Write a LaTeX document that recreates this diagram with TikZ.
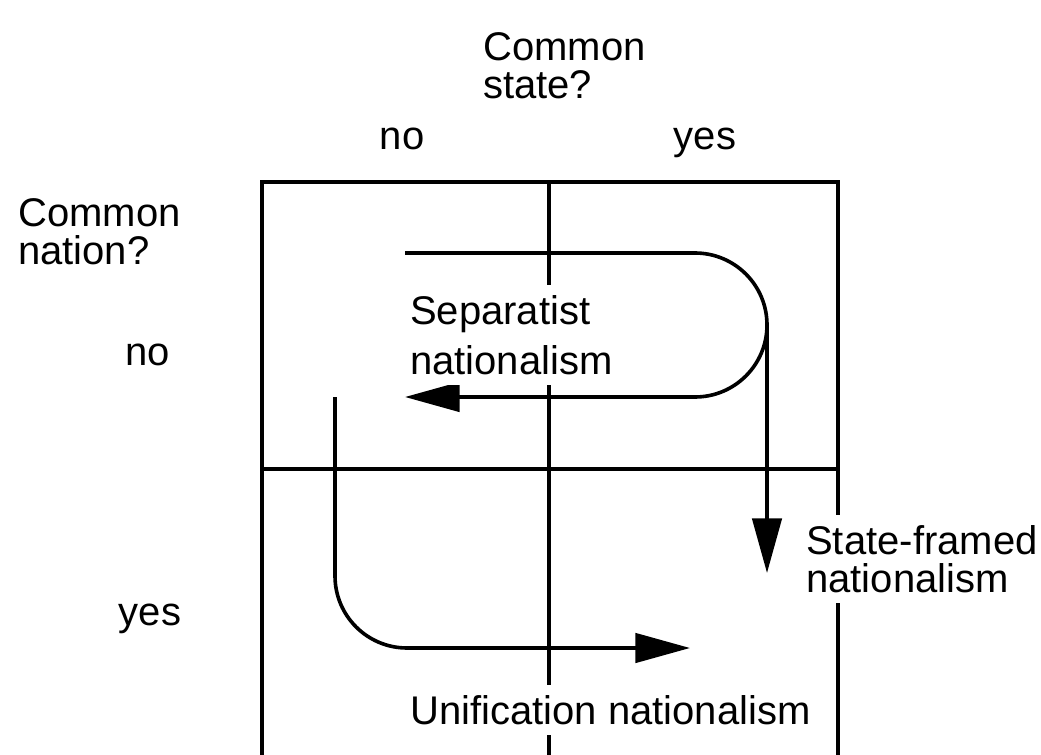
\documentclass[tikz,border=0pt]{standalone}
\usepackage{fontspec}
\setmainfont{Liberation Sans}
\usepackage{tikz}
\usetikzlibrary{arrows.meta,positioning}
\tikzstyle{tableline} = [draw, line width=2.7pt]
\tikzstyle{flow} = [draw, line width=2.7pt, -{Triangle[length=41pt,width=22pt]}]
\tikzstyle{caption} = [inner sep=0pt, align=left]
\tikzstyle{cutout} = [caption, fill=white, inner ysep=8pt]

\begin{document}
\begin{tikzpicture}[x=0.75pt,y=-0.75pt, every node/.style={font=\fontsize{30}{28.5}\selectfont}]
  \useasboundingbox (0,0) rectangle (1041,755);

  % table
  \draw[tableline] (262,755) -- (262,182) -- (838,182) -- (838,755);
  \draw[tableline] (549,182) -- (549,755);
  \draw[tableline] (262,469) -- (838,469);

  % axis labels
  \node[caption, anchor=west] (statequestion) at (483,66) {Common\\state?};
  \node[caption, anchor=base] (stateno) at (402,150) {no};
  \node[caption, anchor=base] (stateyes) at (705,150) {yes};
  \node[caption, anchor=west] (nationquestion) at (18,232) {Common\\nation?};
  \node[caption, anchor=base] (nationno) at (148,365) {no};
  \node[caption, anchor=base] (nationyes) at (150,625) {yes};

  % turning points of the flows
  \coordinate (sepstart) at (405,253);
  \coordinate (sepend) at (405,397);
  \coordinate (turn) at (767,325);
  \coordinate (stateend) at (767,573);
  \coordinate (unistart) at (335,397);
  \coordinate (uniend) at (690,648);

  \draw[flow, rounded corners=54pt] (sepstart) -- (sepstart -| turn) -- (sepend -| turn) -- (sepend);
  \draw[flow] (turn) -- (stateend);
  \draw[flow, rounded corners=54pt] (unistart) |- (uniend);

  % kinds of nationalism
  \node[cutout, anchor=west] (separatist) at (410,335) {Separatist\\[9pt]nationalism};
  \node[cutout, anchor=west] (stateframed) at (806,559) {State-framed\\nationalism};
  \node[cutout, anchor=west] (unification) at (410,710) {Unification nationalism};
\end{tikzpicture}
\end{document}
